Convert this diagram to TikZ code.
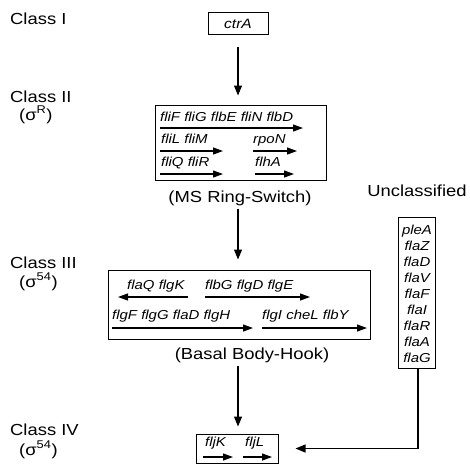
\documentclass[tikz,border=0pt]{standalone}
\usepackage{fontspec}
\setmainfont{Liberation Sans}[FakeStretch=1.15]
\usetikzlibrary{arrows.meta}
\begin{document}
\begin{tikzpicture}[x=1pt,y=-1pt,
  lab/.style={font=\fontsize{16}{19}\selectfont, inner sep=0pt, anchor=base west},
  captxt/.style={font=\fontsize{16}{19}\selectfont, inner sep=0pt, anchor=base},
  gene/.style={font=\fontsize{13}{16}\selectfont\itshape, inner sep=0pt, anchor=base west},
  ugene/.style={font=\fontsize{13}{16}\selectfont\itshape, inner sep=0pt, anchor=base},
  box/.style={draw, line width=1pt, inner sep=0pt},
  conn/.style={line width=1.2pt, -{Triangle[length=10pt,width=8pt]}},
  garr/.style={line width=1.2pt, -{Triangle[length=10pt,width=7pt]}},
]
\useasboundingbox (0,0) rectangle (470,467);

% class labels
\node[lab] (l1) at (10,24) {Class I};
\node[lab] (l2) at (10,102) {Class II};
\node[lab] (l2s) at (19,120) {(σ\textsuperscript{R})};
\node[lab] (l3) at (10,268) {Class III};
\node[lab] (l3s) at (19,287) {(σ\textsuperscript{54})};
\node[lab] (l4) at (10,435) {Class IV};
\node[lab] (l4s) at (19,455) {(σ\textsuperscript{54})};

% boxes
\node[box, minimum width=60pt, minimum height=22pt, font=\fontsize{13.5}{16}\selectfont\itshape] (c1) at (238,23.5) {ctrA};
\node[box, minimum width=171pt, minimum height=75pt] (b2) at (240.5,142.5) {};
\node[box, minimum width=262pt, minimum height=69pt] (b3) at (239,304.5) {};
\node[box, minimum width=82pt, minimum height=29pt] (b4) at (237,448.5) {};
\node[box, minimum width=37pt, minimum height=151pt] (bu) at (416.5,292.5) {};

% captions
\node[captxt] (cap2) at (240,202) {(MS Ring-Switch)};
\node[captxt] (cap3) at (252,359) {(Basal Body-Hook)};
\node[captxt] (capu) at (417,196) {Unclassified};

% class II genes
\node[gene] (g21) at (160,121) {fliF fliG flbE fliN flbD};
\draw[garr] (160,128) -- (303,128);
\node[gene] (g22) at (161,143) {fliL fliM};
\draw[garr] (160,151) -- (223,151);
\node[gene] (g23) at (253,143) {rpoN};
\draw[garr] (253,151) -- (297,151);
\node[gene] (g24) at (161,166) {fliQ fliR};
\draw[garr] (160,174) -- (223,174);
\node[gene] (g25) at (255,166) {flhA};
\draw[garr] (255,174) -- (294,174);

% class III genes
\node[gene] (g31) at (127,289) {flaQ flgK};
\draw[garr] (188,297) -- (118,297);
\node[gene] (g32) at (205,289) {flbG flgD flgE};
\draw[garr] (205,297) -- (310,297);
\node[gene] (g33) at (112,319) {flgF flgG flaD flgH};
\draw[garr] (112,328) -- (253,328);
\node[gene] (g34) at (262,319) {flgI cheL flbY};
\draw[garr] (262,328) -- (367,328);

% class IV genes
\node[gene] (g41) at (205,446) {fljK};
\draw[garr] (203,457) -- (233,457);
\node[gene] (g42) at (245,446) {fljL};
\draw[garr] (243,457) -- (272,457);

% unclassified genes
\node[ugene] (u1) at (417,234) {pleA};
\node[ugene] (u2) at (417,250) {flaZ};
\node[ugene] (u3) at (417,266) {flaD};
\node[ugene] (u4) at (417,282) {flaV};
\node[ugene] (u5) at (417,298) {flaF};
\node[ugene] (u6) at (417,314) {flaI};
\node[ugene] (u7) at (417,330) {flaR};
\node[ugene] (u8) at (417,346) {flaA};
\node[ugene] (u9) at (417,362) {flaG};

% connectors
\draw[conn, shorten <=12pt, shorten >=9pt] (c1.south) -- (c1.south |- b2.north);
\draw[conn, shorten <=3pt, shorten >=10pt] (cap2.south -| c1.south) -- (c1.south |- b3.north);
\draw[conn, shorten <=3pt, shorten >=7pt] (cap3.south -| c1.south) -- (c1.south |- b4.north);
\draw[conn, shorten >=17pt] ([xshift=1.5pt]bu.south) |- (b4.east);
\end{tikzpicture}
\end{document}
